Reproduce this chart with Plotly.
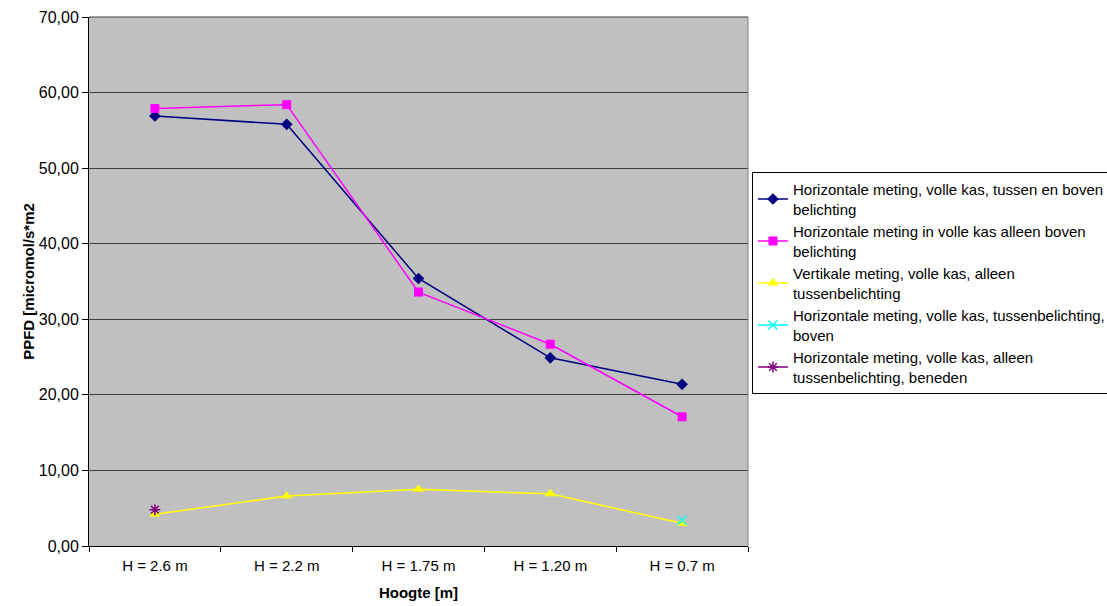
import plotly.graph_objects as go

categories = ["H = 2.6 m", "H = 2.2 m", "H = 1.75 m", "H = 1.20 m", "H = 0.7 m"]
s1_name = "Horizontale meting, volle kas, tussen en boven<br>belichting"
s1 = [56.9, 55.8, 35.4, 24.9, 21.4]
s2_name = "Horizontale meting in volle kas alleen boven<br>belichting"
s2 = [57.9, 58.4, 33.6, 26.7, 17.1]
s3_name = "Vertikale meting, volle kas, alleen<br>tussenbelichting"
s3 = [4.2, 6.6, 7.5, 6.9, 3.0]
s4_name = "Horizontale meting, volle kas, tussenbelichting,<br>boven"
s4_x = ["H = 0.7 m"]
s4 = [3.4]
s5_name = "Horizontale meting, volle kas, alleen<br>tussenbelichting, beneden"
s5_x = ["H = 2.6 m"]
s5 = [4.8]

FONT = "Liberation Sans, Arial"

fig = go.Figure()
fig.add_trace(go.Scatter(x=categories, y=s1, name=s1_name, mode="lines+markers",
                         line=dict(color="#000080", width=1.5),
                         marker=dict(symbol="diamond", size=9, color="#000080")))
fig.add_trace(go.Scatter(x=categories, y=s2, name=s2_name, mode="lines+markers",
                         line=dict(color="#FF00FF", width=1.5),
                         marker=dict(symbol="square", size=9, color="#FF00FF")))
fig.add_trace(go.Scatter(x=categories, y=s3, name=s3_name, mode="lines+markers",
                         line=dict(color="#FFFF00", width=1.5),
                         marker=dict(symbol="triangle-up", size=10, color="#FFFF00")))
fig.add_trace(go.Scatter(x=s4_x, y=s4, name=s4_name, mode="lines+markers",
                         line=dict(color="#00FFFF", width=1.5),
                         marker=dict(symbol="x-thin", size=9, color="#00FFFF",
                                     line=dict(color="#00FFFF", width=1.5))))
fig.add_trace(go.Scatter(x=s5_x, y=s5, name=s5_name, mode="lines+markers",
                         line=dict(color="#800080", width=1.5),
                         marker=dict(symbol="asterisk", size=9, color="#800080",
                                     line=dict(color="#800080", width=1.5))))

fig.update_layout(
    width=1107, height=606,
    margin=dict(l=89, r=359, t=17, b=60, autoexpand=False),
    paper_bgcolor="white", plot_bgcolor="#C0C0C0",
    font=dict(family=FONT, size=15, color="black"),
    separators=",.",
    showlegend=True,
    legend=dict(x=1.006, y=0.707, xanchor="left", yanchor="top",
                bordercolor="black", borderwidth=1, bgcolor="white",
                font=dict(size=15), tracegroupgap=0, itemwidth=30),
    xaxis=dict(type="category", range=[-0.5, 4.5], tickson="boundaries",
               ticks="outside", ticklen=5, ticklabelstandoff=6,
               tickcolor="black", showline=True, linecolor="black",
               showgrid=False, tickfont=dict(size=15),
               title=dict(text="<b>Hoogte [m]</b>", font=dict(size=15), standoff=14)),
    yaxis=dict(range=[0, 70], dtick=10, tickformat=".2f", ticks="outside", ticklen=6,
               tickcolor="black", showline=True, linecolor="black",
               showgrid=True, gridcolor="#404040", gridwidth=1, zeroline=False,
               tickfont=dict(size=16),
               title=dict(text="<b>PPFD [micromol/s*m2</b>", font=dict(size=15), standoff=0)),
)
fig.add_shape(type="line", xref="paper", yref="paper", x0=0, x1=1, y0=1, y1=1,
              line=dict(color="#404040", width=1))
fig.add_shape(type="line", xref="paper", yref="paper", x0=1, x1=1, y0=0, y1=1,
              line=dict(color="#808080", width=1))

fig.write_html("out.html")
